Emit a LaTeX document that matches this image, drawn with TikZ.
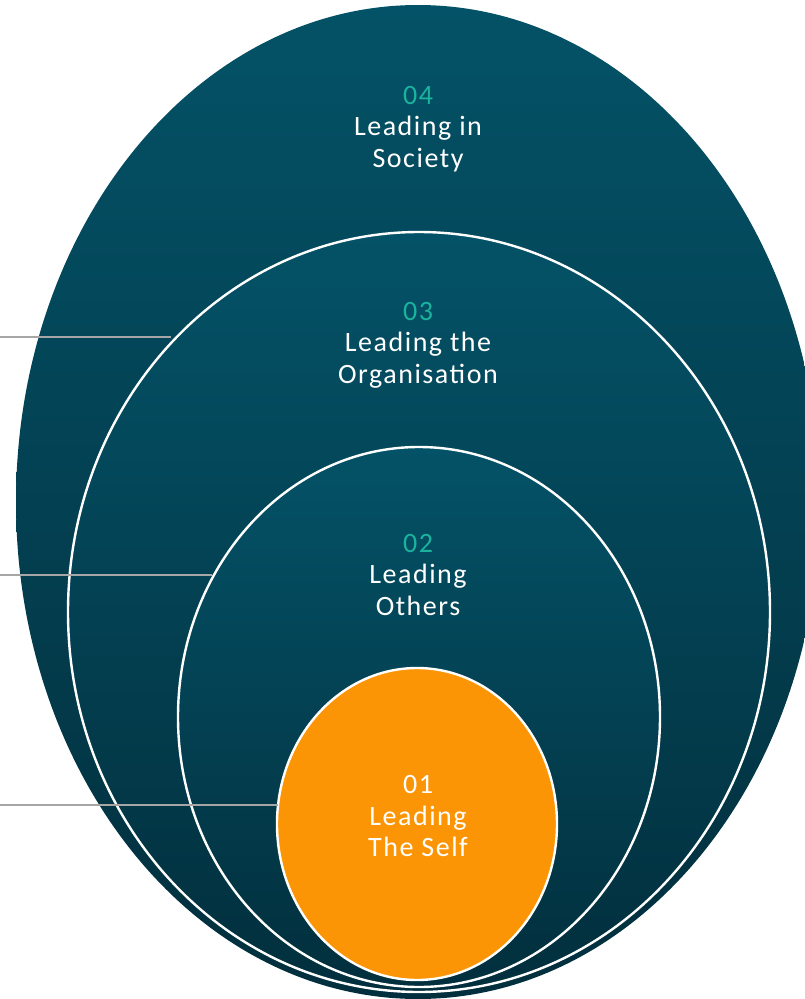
\documentclass[tikz,border=0pt]{standalone}
\usepackage{fontspec}
\setmainfont{Carlito}[LetterSpace=5.5]
\usetikzlibrary{shapes.geometric}
\definecolor{tealtop}{HTML}{045267}
\definecolor{tealbot}{HTML}{022F3D}
\definecolor{numteal}{HTML}{19B39E}
\definecolor{orng}{HTML}{FB9506}
\definecolor{leader}{HTML}{A6A6A6}
\begin{document}
\begin{tikzpicture}[x=1pt,y=-1pt,
  ring/.style={ellipse, inner sep=0pt, draw=white, line width=2.4pt, top color=tealtop, bottom color=tealbot},
  lbl/.style={align=center, text=white, font=\fontsize{28}{31.5}\selectfont},
  leaderline/.style={draw=leader, line width=1.6pt}]
\useasboundingbox (0,0) rectangle (805,999);
\clip (0,0) rectangle (805,999);
\node[ring, draw=none, minimum width=804pt, minimum height=994pt] (ring4) at (418,502) {};
\node[ring, minimum width=702pt, minimum height=760pt] (ring3) at (419,612) {};
\node[ring, minimum width=482pt, minimum height=540pt] (ring2) at (419,717) {};
\node[ellipse, inner sep=0pt, draw=white, line width=2.4pt, fill=orng, minimum width=280pt, minimum height=312pt] (ring1) at (417,824) {};
\node[lbl] (t4) at (418,129) {{\color{numteal}04}\\Leading in\\Society};
\node[lbl] (t3) at (418,345) {{\color{numteal}03}\\Leading the\\Organisation};
\node[lbl] (t2) at (418,575) {{\color{numteal}02}\\Leading\\Others};
\node[lbl] (t1) at (418,816) {01\\Leading\\The Self};
\coordinate (l3a) at (0,337);
\coordinate (l3b) at (171,337);
\coordinate (l2a) at (0,575);
\coordinate (l2b) at (212,575);
\coordinate (l1a) at (0,805);
\coordinate (l1b) at (278,805);
\draw[leaderline] (l3a) -- (l3b);
\draw[leaderline] (l2a) -- (l2b);
\draw[leaderline] (l1a) -- (l1b);
\end{tikzpicture}
\end{document}
